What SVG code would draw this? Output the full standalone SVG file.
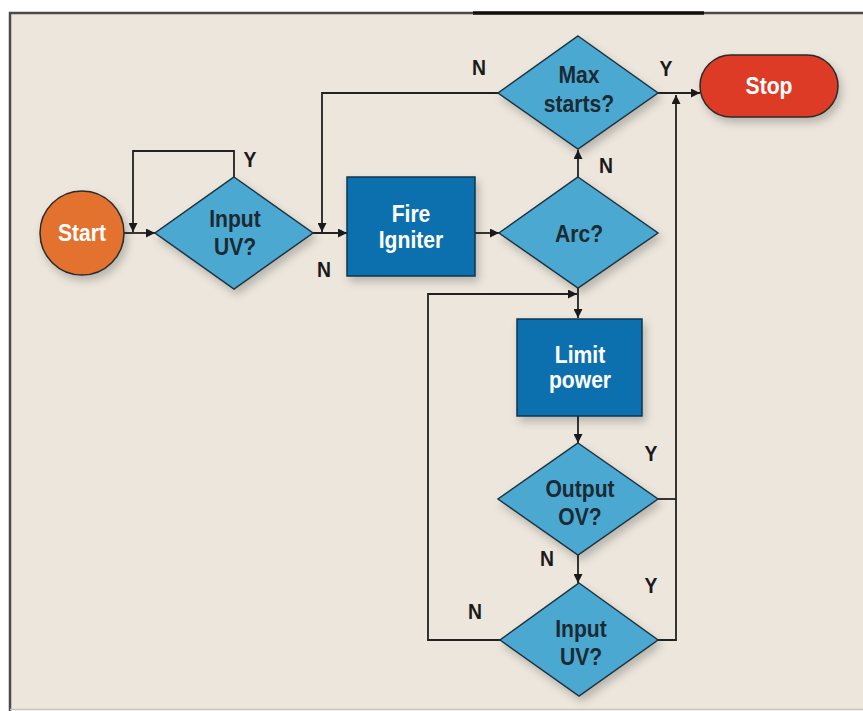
<svg xmlns="http://www.w3.org/2000/svg" width="863" height="711" viewBox="0 0 863 711">
<defs>
<marker id="ah" viewBox="0 0 10 10" refX="10" refY="5" markerWidth="11" markerHeight="9" markerUnits="userSpaceOnUse" orient="auto">
<path d="M0,0 L10,5 L0,10 z" fill="#1a1a1a"/>
</marker>
<filter id="sh" x="-20%" y="-20%" width="150%" height="150%">
<feDropShadow dx="3" dy="5" stdDeviation="4" flood-color="#000" flood-opacity="0.22"/>
</filter>
</defs>
<style>
.dia{fill:#4BA8D1;stroke:#1d3340;stroke-width:1.5;filter:url(#sh)}
.box{fill:#0B6FAE;stroke:#0d3550;stroke-width:1.5;filter:url(#sh)}
.t{font-family:"Liberation Sans",Arial,sans-serif;font-weight:bold;font-size:24px;text-anchor:middle}
.dk{fill:#1b2a33}
.wh{fill:#ffffff}
.lbl{font-family:"Liberation Sans",Arial,sans-serif;font-weight:bold;font-size:22px;text-anchor:middle;fill:#1a1a1a}
.c{fill:none;stroke:#222;stroke-width:1.8}
</style>
<rect x="0" y="0" width="863" height="711" fill="#ffffff"/>
<rect x="10" y="13" width="853" height="696" fill="#ECE6DC"/>
<path d="M10,711 V13 H863" fill="none" stroke="#4a4a4a" stroke-width="2.5"/>
<line x1="473" y1="13" x2="704" y2="13" stroke="#111" stroke-width="3.5"/>
<line x1="10" y1="709.5" x2="863" y2="709.5" stroke="#c8c4bc" stroke-width="1.5"/>

<g id="connectors">
<path class="c" d="M124,233 H155" marker-end="url(#ah)"/>
<path class="c" d="M234,177 V151 H133 V232" marker-end="url(#ah)"/>
<path class="c" d="M313,233 H347" marker-end="url(#ah)"/>
<path class="c" d="M498,93 H322 V232" marker-end="url(#ah)"/>
<path class="c" d="M475,233 H499" marker-end="url(#ah)"/>
<path class="c" d="M578,177 V150" marker-end="url(#ah)"/>
<path class="c" d="M658,93 H700" marker-end="url(#ah)"/>
<path class="c" d="M578,288 V318" marker-end="url(#ah)"/>
<path class="c" d="M578,416 V443" marker-end="url(#ah)"/>
<path class="c" d="M578,555 V583" marker-end="url(#ah)"/>
<path class="c" d="M500,640 H428 V294 H577" marker-end="url(#ah)"/>
<path class="c" d="M658,499 H676"/>
<path class="c" d="M658,640 H676 V95" marker-end="url(#ah)"/>
<text class="lbl" transform="matrix(0.88,0,0,1,250,167)">Y</text>
<text class="lbl" transform="matrix(0.88,0,0,1,324,277)">N</text>
<text class="lbl" transform="matrix(0.88,0,0,1,479,75)">N</text>
<text class="lbl" transform="matrix(0.88,0,0,1,666,76)">Y</text>
<text class="lbl" transform="matrix(0.88,0,0,1,606,173)">N</text>
<text class="lbl" transform="matrix(0.88,0,0,1,651,461)">Y</text>
<text class="lbl" transform="matrix(0.88,0,0,1,547,566)">N</text>
<text class="lbl" transform="matrix(0.88,0,0,1,651,593)">Y</text>
<text class="lbl" transform="matrix(0.88,0,0,1,475,619)">N</text>
</g>

<g id="start">
<circle cx="82" cy="233" r="42" fill="#E2722E" stroke="#2a2a2a" stroke-width="1.5" filter="url(#sh)"/>
<text class="t wh" transform="matrix(0.88,0,0,1,82,241)">Start</text>
</g>
<g id="input-uv-1">
<polygon class="dia" points="234,177 313,233 234,289 155,233"/>
<text class="t dk" transform="matrix(0.88,0,0,1,235,227)">Input</text>
<text class="t dk" transform="matrix(0.88,0,0,1,235,255)">UV?</text>
</g>
<g id="fire-igniter">
<rect class="box" x="347" y="177" width="128" height="99"/>
<text class="t wh" transform="matrix(0.88,0,0,1,411,222)">Fire</text>
<text class="t wh" transform="matrix(0.88,0,0,1,411,248)">Igniter</text>
</g>
<g id="arc">
<polygon class="dia" points="578,177 658,233 578,288 499,233"/>
<text class="t dk" transform="matrix(0.88,0,0,1,579,242)">Arc?</text>
</g>
<g id="max-starts">
<polygon class="dia" points="578,36 658,93 578,149 498,93"/>
<text class="t dk" transform="matrix(0.88,0,0,1,579,83)">Max</text>
<text class="t dk" transform="matrix(0.88,0,0,1,579,112)">starts?</text>
</g>
<g id="stop">
<rect x="700" y="55" width="138" height="62" rx="31" ry="31" fill="#DE3B28" stroke="#2a2a2a" stroke-width="1.5" filter="url(#sh)"/>
<text class="t wh" transform="matrix(0.88,0,0,1,769,94)">Stop</text>
</g>
<g id="limit-power">
<rect class="box" x="517" y="319" width="125" height="97"/>
<text class="t wh" transform="matrix(0.88,0,0,1,580,363)">Limit</text>
<text class="t wh" transform="matrix(0.88,0,0,1,580,388)">power</text>
</g>
<g id="output-ov">
<polygon class="dia" points="578,443 658,499 578,555 498,499"/>
<text class="t dk" transform="matrix(0.88,0,0,1,580,497)">Output</text>
<text class="t dk" transform="matrix(0.88,0,0,1,580,525)">OV?</text>
</g>
<g id="input-uv-2">
<polygon class="dia" points="579,583 658,640 579,696 500,640"/>
<text class="t dk" transform="matrix(0.88,0,0,1,581,637)">Input</text>
<text class="t dk" transform="matrix(0.88,0,0,1,581,665)">UV?</text>
</g>
</svg>
